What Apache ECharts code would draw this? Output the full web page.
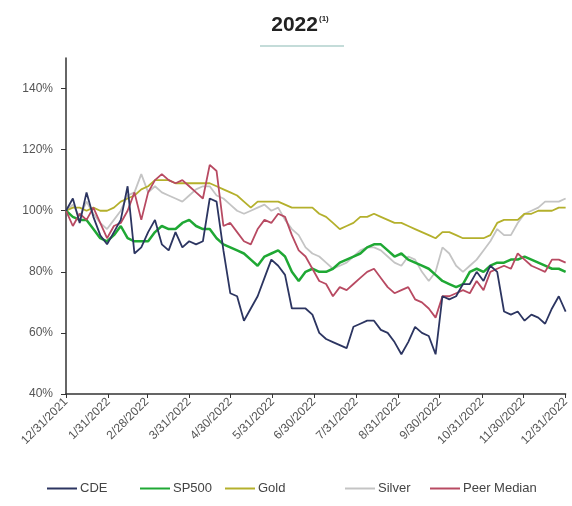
<!DOCTYPE html>
<html>
<head>
<meta charset="utf-8">
<script src="https://cdn.jsdelivr.net/npm/echarts@6/dist/echarts.min.js"></script>
<style>
  html, body { margin: 0; padding: 0; background: #fff; }
  #chart { width: 572px; height: 506px; }
</style>
</head>
<body>
<div id="chart"></div>
<script>
// days since 12/31/2021, one point every 5 days
var days = []
for (var d = 0; d <= 365; d += 5) days.push(d)

var tickDays = [0, 31, 59, 90, 120, 151, 181, 212, 243, 273, 304, 334, 365]
var tickLabels = ['12/31/2021', '1/31/2022', '2/28/2022', '3/31/2022', '4/30/2022', '5/31/2022',
  '6/30/2022', '7/31/2022', '8/31/2022', '9/30/2022', '10/31/2022', '11/30/2022', '12/31/2022']
var yTicks = [40, 60, 80, 100, 120, 140]

var cde = [100, 104, 96, 106, 98, 92, 89, 93, 97, 108, 86, 88, 93, 97, 89, 87, 93, 88, 90, 89,
  90, 104, 103, 87, 73, 72, 64, 68, 72, 78, 84, 82, 79, 68, 68, 68, 66, 60, 58, 57,
  56, 55, 62, 63, 64, 64, 61, 60, 57, 53, 57, 62, 60, 59, 53, 72, 71, 72, 76, 76,
  80, 77, 82, 80, 67, 66, 67, 64, 66, 65, 63, 68, 72, 67]
var sp500 = [100, 98, 97, 97, 94, 91, 90, 92, 95, 91, 90, 90, 90, 93, 95, 94, 94, 96, 97, 95,
  94, 94, 91, 89, 88, 87, 86, 84, 82, 85, 86, 87, 85, 80, 77, 80, 81, 80, 80, 81,
  83, 84, 85, 86, 88, 89, 89, 87, 85, 86, 84, 83, 82, 81, 79, 77, 76, 75, 76, 80,
  81, 80, 82, 83, 83, 84, 84, 85, 84, 83, 82, 81, 81, 80]
var gold = [100, 101, 101, 100, 101, 100, 100, 101, 103, 104, 105, 107, 108, 110, 110, 110, 109, 109, 109, 109,
  109, 109, 108, 107, 106, 105, 103, 101, 103, 103, 103, 103, 102, 101, 101, 101, 101, 99, 98, 96,
  94, 95, 96, 98, 98, 99, 98, 97, 96, 96, 95, 94, 93, 92, 91, 93, 93, 92, 91, 91,
  91, 91, 92, 96, 97, 97, 97, 99, 99, 100, 100, 100, 101, 101]
var silver = [100, 102, 98, 103, 99, 96, 94, 97, 100, 105, 106, 112, 106, 108, 106, 105, 104, 103, 105, 107,
  108, 108, 105, 104, 102, 100, 99, 100, 101, 102, 100, 101, 97, 94, 92, 88, 86, 85, 83, 81,
  82, 83, 85, 87, 88, 88, 87, 85, 83, 82, 85, 84, 80, 77, 80, 88, 86, 82, 80, 82,
  84, 87, 90, 94, 92, 92, 96, 99, 100, 101, 103, 103, 103, 104]
var peer = [100, 95, 99, 97, 101, 96, 91, 95, 96, 100, 106, 97, 106, 110, 112, 110, 109, 110, 108, 106,
  104, 115, 113, 95, 96, 93, 90, 89, 94, 97, 96, 99, 98, 92, 87, 85, 81, 77, 76, 72,
  75, 74, 76, 78, 80, 81, 78, 75, 73, 74, 75, 71, 70, 68, 65, 72, 72, 73, 74, 73,
  77, 74, 80, 81, 82, 81, 86, 84, 82, 81, 80, 84, 84, 83]

function pairs(vals) {
  return days.map(function (d, i) { return [d, vals[i]] })
}

// one legend per item, placed like the original
function legendAt(name, left) {
  return {
    data: [name],
    bottom: 6,
    left: left,
    icon: 'rect',
    itemWidth: 30,
    itemHeight: 2,
    itemGap: 0,
    textStyle: { color: '#444', fontSize: 13, fontFamily: 'Liberation Sans', padding: [0, 0, 0, -2] }
  }
}

var chart = echarts.init(document.getElementById('chart'))
chart.setOption({
  animation: false,
  title: {
    text: '{a|2022}{b|(1)}',
    left: 295,
    textAlign: 'center',
    top: 10,
    textStyle: {
      rich: {
        a: { fontSize: 21, fontWeight: 'bold', color: '#222', fontFamily: 'Liberation Sans' },
        b: { fontSize: 8, fontWeight: 'bold', color: '#222', verticalAlign: 'top', padding: [0, 0, 10, 1] }
      }
    }
  },
  graphic: [{
    type: 'line',
    shape: { x1: 260, y1: 46, x2: 344, y2: 46 },
    style: { stroke: '#8fbdb7', lineWidth: 1.5, opacity: 0.7 }
  }],
  grid: {
    left: 66,
    right: 2,
    top: 58,
    bottom: 112
  },
  legend: [
    legendAt('CDE', 42),
    legendAt('SP500', 135),
    legendAt('Gold', 220),
    legendAt('Silver', 340),
    legendAt('Peer Median', 425)
  ],
  xAxis: {
    type: 'value',
    min: 0,
    max: 365,
    splitLine: { show: false },
    axisLine: { lineStyle: { color: '#333', width: 1.5 } },
    axisTick: { customValues: tickDays, length: 4, lineStyle: { color: '#333' } },
    axisLabel: {
      customValues: tickDays,
      rotate: 45,
      color: '#555',
      fontSize: 12,
      fontFamily: 'Liberation Sans',
      margin: 6,
      formatter: function (v) { return tickLabels[tickDays.indexOf(v)] }
    }
  },
  yAxis: {
    type: 'value',
    min: 40,
    max: 150,
    interval: 20,
    splitLine: { show: false },
    axisLine: { show: true, lineStyle: { color: '#333', width: 1.5 } },
    axisTick: { show: true, customValues: yTicks, length: 5, lineStyle: { color: '#333' } },
    axisLabel: {
      customValues: yTicks,
      color: '#555',
      fontSize: 12,
      fontFamily: 'Liberation Sans',
      margin: 13,
      formatter: function (v) { return v + '%' }
    }
  },
  series: [
    { name: 'Silver', type: 'line', data: pairs(silver), symbol: 'none', z: 1,
      lineStyle: { color: '#c4c4c4', width: 1.8 }, itemStyle: { color: '#c4c4c4' } },
    { name: 'Gold', type: 'line', data: pairs(gold), symbol: 'none', z: 2,
      lineStyle: { color: '#b4b02c', width: 1.8 }, itemStyle: { color: '#b4b02c' } },
    { name: 'SP500', type: 'line', data: pairs(sp500), symbol: 'none', z: 3,
      lineStyle: { color: '#1fa834', width: 2.5 }, itemStyle: { color: '#1fa834' } },
    { name: 'Peer Median', type: 'line', data: pairs(peer), symbol: 'none', z: 4,
      lineStyle: { color: '#b84a62', width: 1.8 }, itemStyle: { color: '#b84a62' } },
    { name: 'CDE', type: 'line', data: pairs(cde), symbol: 'none', z: 5,
      lineStyle: { color: '#2c3561', width: 1.8 }, itemStyle: { color: '#2c3561' } }
  ]
})
</script>
</body>
</html>
